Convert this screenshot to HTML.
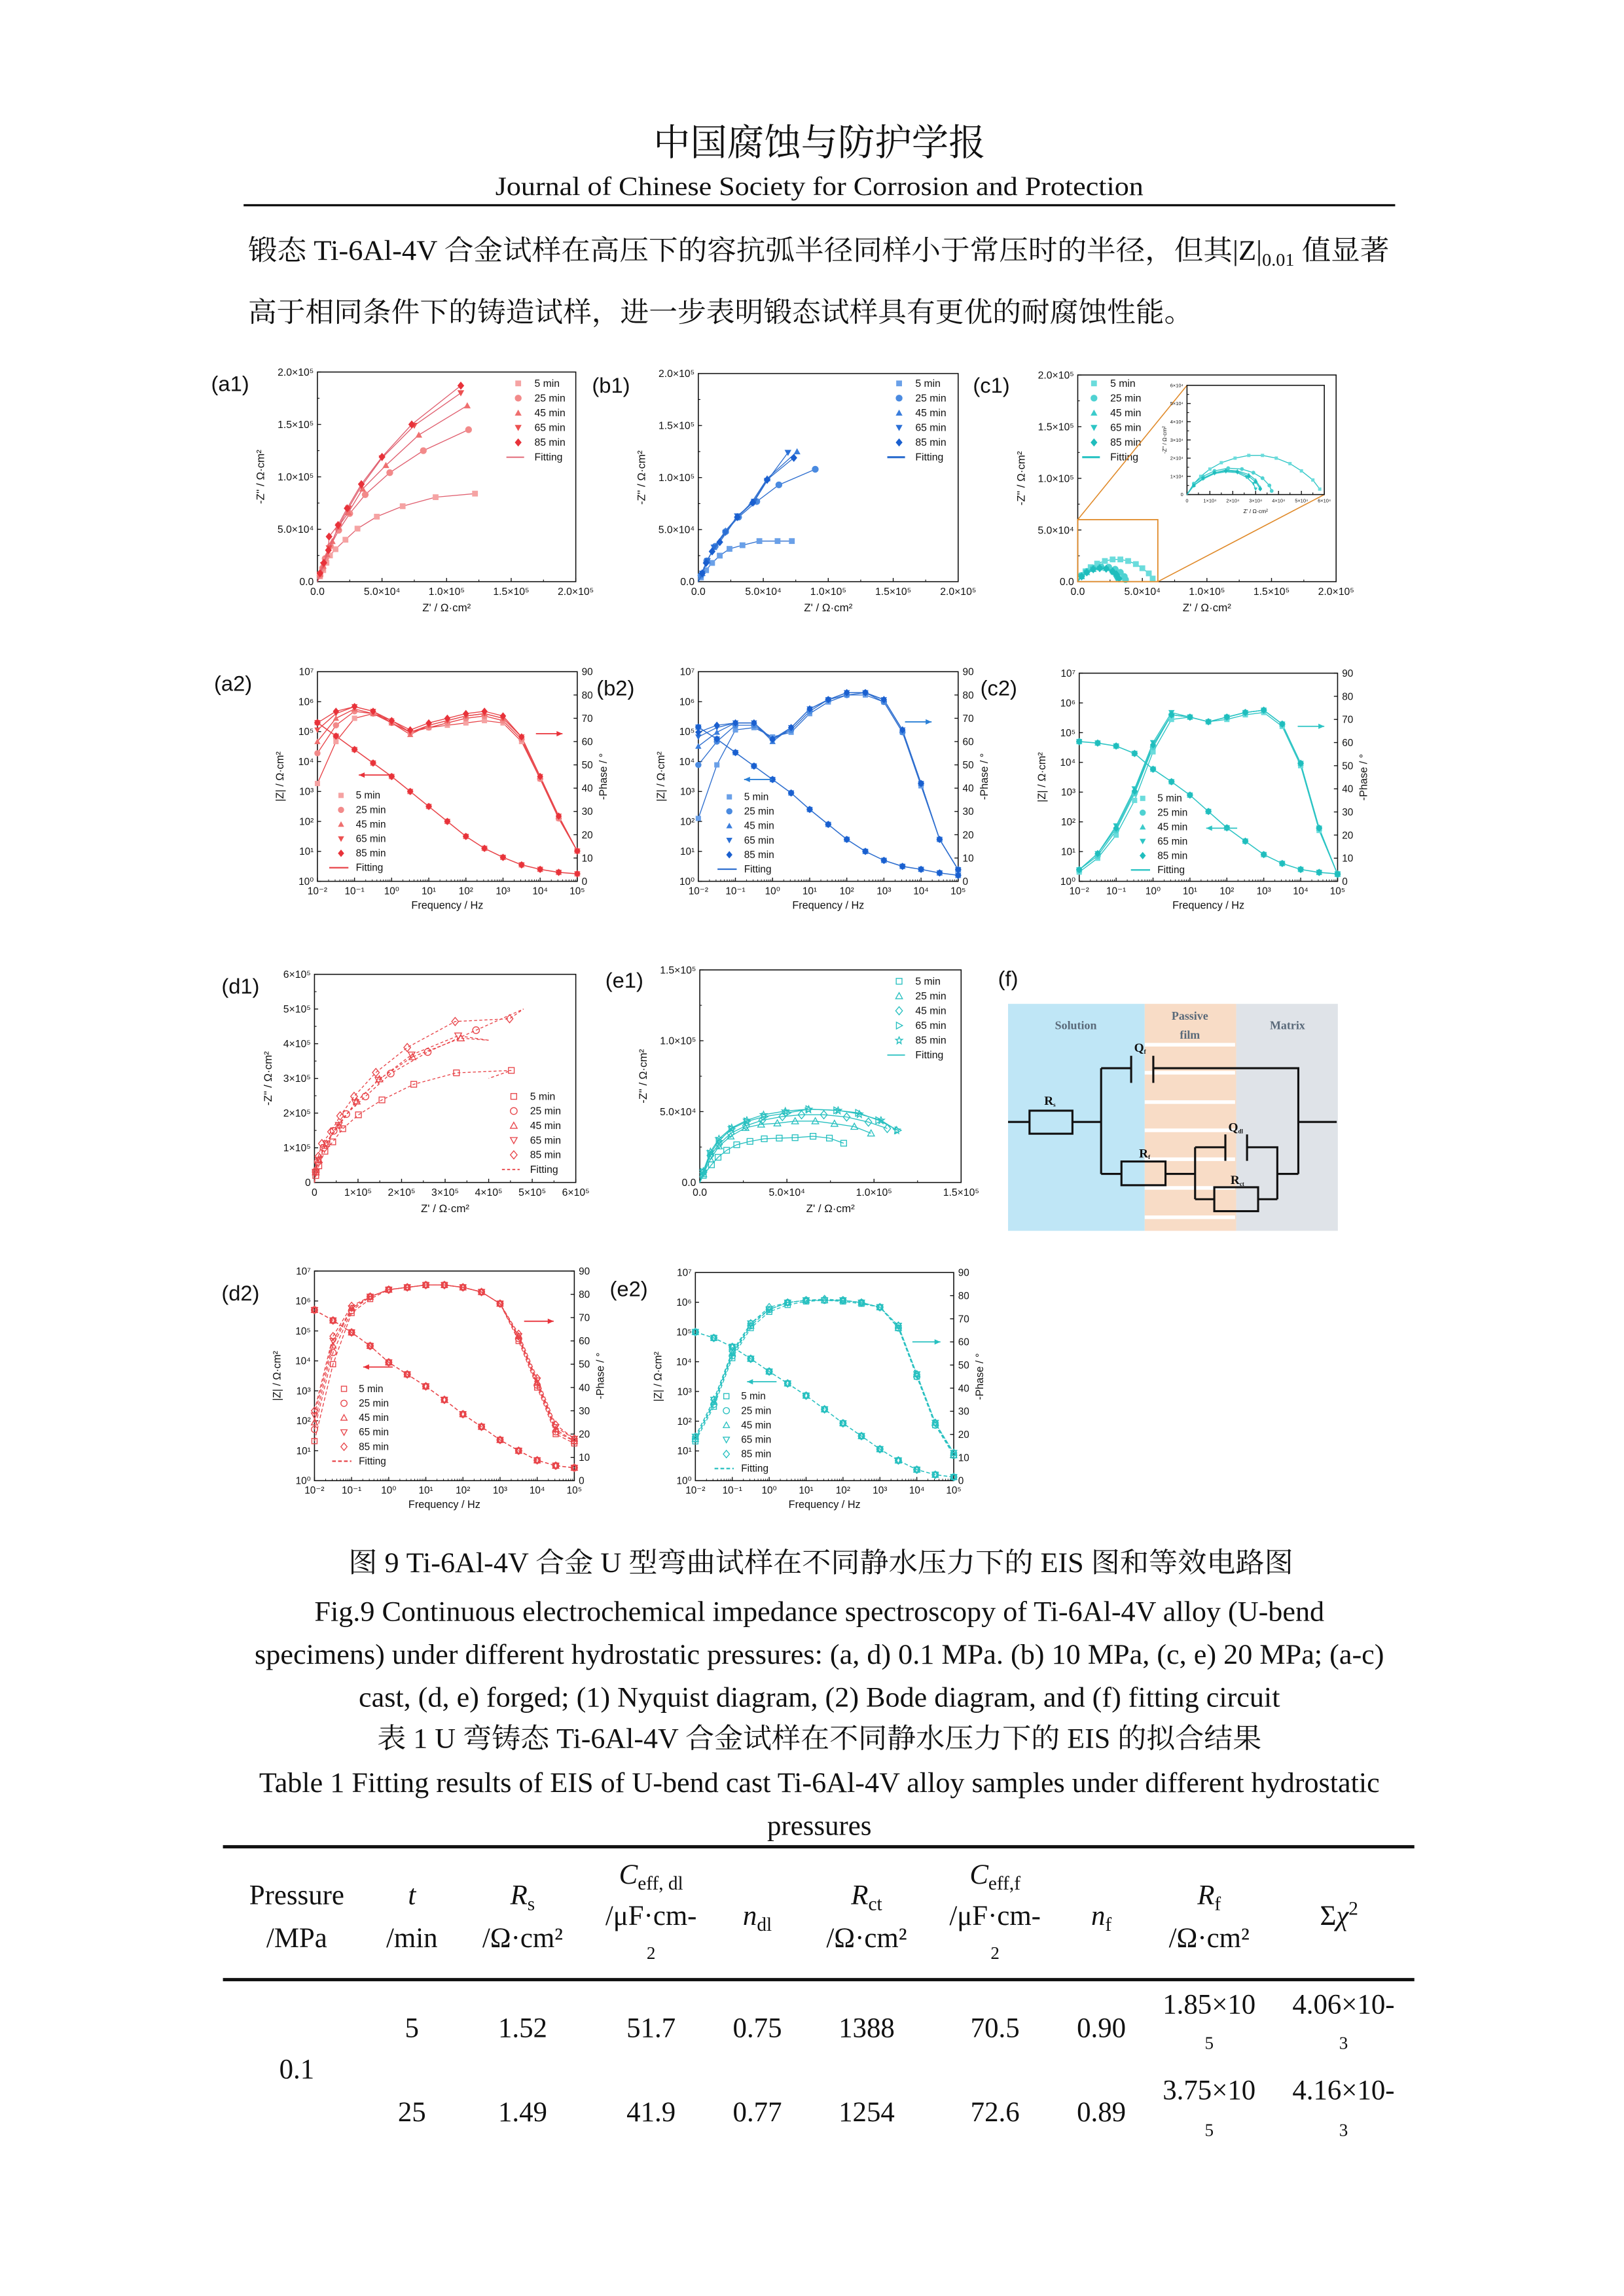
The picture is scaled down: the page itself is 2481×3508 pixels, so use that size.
<!DOCTYPE html>
<html><head><meta charset="utf-8"><style>
html,body{margin:0;padding:0;background:#fff;}
svg{display:block;}
</style></head><body>
<svg id="page" xmlns="http://www.w3.org/2000/svg" width="2481" height="3508" viewBox="0 0 1100 1555.3">
<rect x="0" y="0" width="1100" height="1556" fill="#fff"/>
<g font-family="'Liberation Serif','Noto Serif CJK SC',serif" fill="#111">
<text x="555" y="105" font-size="25" text-anchor="middle">中国腐蚀与防护学报</text>
<text x="555" y="132" font-size="18" text-anchor="middle" textLength="439" lengthAdjust="spacingAndGlyphs">Journal of Chinese Society for Corrosion and Protection</text>
<line x1="165" y1="139" x2="945" y2="139" stroke="#111" stroke-width="1.5"/>
</g>
<g font-family="'Liberation Serif','Noto Serif CJK SC',serif" fill="#111" font-size="19">
<text x="168" y="176" textLength="773" lengthAdjust="spacingAndGlyphs">锻态 Ti-6Al-4V 合金试样在高压下的容抗弧半径同样小于常压时的半径，但其|Z|<tspan font-size="12" dy="4">0.01</tspan><tspan dy="-4"> 值显著</tspan></text>
<text x="168" y="218" textLength="640" lengthAdjust="spacingAndGlyphs">高于相同条件下的铸造试样，进一步表明锻态试样具有更优的耐腐蚀性能。</text>
</g>
<g id="charts"></g>
<g id="circuit" transform="translate(682.8,647.1) scale(0.153)">
<rect x="0" y="215" width="605" height="1005" fill="#bfe6f6"/>
<rect x="605" y="215" width="405" height="1005" fill="#f8dcc6"/>
<g fill="#fff">
<rect x="605" y="388" width="400" height="16"/><rect x="605" y="512" width="400" height="16"/><rect x="605" y="642" width="400" height="16"/><rect x="605" y="767" width="400" height="16"/><rect x="605" y="895" width="400" height="16"/><rect x="605" y="1022" width="400" height="16"/><rect x="605" y="1152" width="400" height="16"/>
</g>
<rect x="1010" y="215" width="450" height="1005" fill="#dfe3e8"/>
<g font-family="'Liberation Serif',serif" font-weight="bold" font-size="52" fill="#5a6a7a" text-anchor="middle">
<text x="300" y="328">Solution</text>
<text x="805" y="285">Passive</text>
<text x="805" y="370">film</text>
<text x="1237" y="328">Matrix</text>
</g>
<g stroke="#111" stroke-width="9" fill="none">
<path d="M0 738H95M285 738H412M412 500V968M412 500H545M643 500H1285V968M1285 738H1455M412 968H502M697 968H828M828 850V1080M828 850H962M1058 850H1192V1080M828 1080H913M1107 1080H1192M1192 968H1285"/>
<rect x="95" y="688" width="190" height="102"/>
<rect x="502" y="913" width="195" height="105"/>
<rect x="913" y="1027" width="194" height="106"/>
<path d="M545 445V565M643 445V565"/>
<path d="M962 793V910M1058 793V910"/>
</g>
<g font-family="'Liberation Serif',serif" font-weight="bold" font-size="56" fill="#111">
<text x="558" y="428">Q<tspan font-size="26" dy="8">f</tspan></text>
<text x="160" y="662">R<tspan font-size="26" dy="8">s</tspan></text>
<text x="580" y="895">R<tspan font-size="26" dy="8">f</tspan></text>
<text x="975" y="780">Q<tspan font-size="26" dy="8">dl</tspan></text>
<text x="985" y="1013">R<tspan font-size="26" dy="8">ct</tspan></text>
</g>
</g>
<g font-family="'Liberation Serif','Noto Serif CJK SC',serif" fill="#111" font-size="19" text-anchor="middle">
<text x="556" y="1065" textLength="640" lengthAdjust="spacingAndGlyphs">图 9 Ti-6Al-4V 合金 U 型弯曲试样在不同静水压力下的 EIS 图和等效电路图</text>
<text x="555" y="1098" textLength="684" lengthAdjust="spacingAndGlyphs">Fig.9 Continuous electrochemical impedance spectroscopy of Ti-6Al-4V alloy (U-bend</text>
<text x="555" y="1127" textLength="765" lengthAdjust="spacingAndGlyphs">specimens) under different hydrostatic pressures: (a, d) 0.1 MPa. (b) 10 MPa, (c, e) 20 MPa; (a-c)</text>
<text x="555" y="1156" textLength="624" lengthAdjust="spacingAndGlyphs">cast, (d, e) forged; (1) Nyquist diagram, (2) Bode diagram, and (f) fitting circuit</text>
<text x="555" y="1184" textLength="599" lengthAdjust="spacingAndGlyphs">表 1 U 弯铸态 Ti-6Al-4V 合金试样在不同静水压力下的 EIS 的拟合结果</text>
<text x="555" y="1214" textLength="759" lengthAdjust="spacingAndGlyphs">Table 1 Fitting results of EIS of U-bend cast Ti-6Al-4V alloy samples under different hydrostatic</text>
<text x="555" y="1243">pressures</text>
</g>
<g font-family="'Liberation Serif',serif" fill="#111" font-size="19" text-anchor="middle">
<line x1="151" y1="1251" x2="958" y2="1251" stroke="#111" stroke-width="2.2"/>
<line x1="151" y1="1341" x2="958" y2="1341" stroke="#111" stroke-width="2.2"/>
<text x="201" y="1290">Pressure</text><text x="201" y="1319">/MPa</text>
<text x="279" y="1290" font-style="italic">t</text><text x="279" y="1319">/min</text>
<text x="354" y="1290"><tspan font-style="italic">R</tspan><tspan font-size="13" dy="4">s</tspan></text><text x="354" y="1319">/Ω·cm²</text>
<text x="441" y="1276"><tspan font-style="italic">C</tspan><tspan font-size="13" dy="4">eff, dl</tspan></text><text x="441" y="1304">/μF·cm-</text><text x="441" y="1327" font-size="12">2</text>
<text x="513" y="1304"><tspan font-style="italic">n</tspan><tspan font-size="13" dy="4">dl</tspan></text>
<text x="587" y="1290"><tspan font-style="italic">R</tspan><tspan font-size="13" dy="4">ct</tspan></text><text x="587" y="1319">/Ω·cm²</text>
<text x="674" y="1276"><tspan font-style="italic">C</tspan><tspan font-size="13" dy="4">eff,f</tspan></text><text x="674" y="1304">/μF·cm-</text><text x="674" y="1327" font-size="12">2</text>
<text x="746" y="1304"><tspan font-style="italic">n</tspan><tspan font-size="13" dy="4">f</tspan></text>
<text x="819" y="1290"><tspan font-style="italic">R</tspan><tspan font-size="13" dy="4">f</tspan></text><text x="819" y="1319">/Ω·cm²</text>
<text x="907" y="1304">Σ<tspan font-style="italic">χ</tspan><tspan font-size="13" dy="-7">2</tspan></text>
<text x="201" y="1408">0.1</text>
<g>
<text x="279" y="1380">5</text><text x="354" y="1380">1.52</text><text x="441" y="1380">51.7</text><text x="513" y="1380">0.75</text><text x="587" y="1380">1388</text><text x="674" y="1380">70.5</text><text x="746" y="1380">0.90</text>
<text x="819" y="1364">1.85×10</text><text x="819" y="1388" font-size="12">5</text><text x="910" y="1364">4.06×10-</text><text x="910" y="1388" font-size="12">3</text>
</g>
<g>
<text x="279" y="1437">25</text><text x="354" y="1437">1.49</text><text x="441" y="1437">41.9</text><text x="513" y="1437">0.77</text><text x="587" y="1437">1254</text><text x="674" y="1437">72.6</text><text x="746" y="1437">0.89</text>
<text x="819" y="1422">3.75×10</text><text x="819" y="1447" font-size="12">5</text><text x="910" y="1422">4.16×10-</text><text x="910" y="1447" font-size="12">3</text>
</g>
</g>
</svg>
<script>
// ---------- data (Nyquist: a,b,c,e in 1e4 Ω·cm², d in 1e5 Ω·cm²) ----------
const times = ['5 min','25 min','45 min','65 min','85 min'];
const a1_x5=[0.2,0.45,0.7,0.97,1.4,2.17,3.1,4.6,6.6,9.15,12.2];
const a1_y5=[0.5,1.1,1.8,2.5,3.1,4.0,5.06,6.2,7.2,8.06,8.4];
const a1_x25=[0.2,0.4,0.6,1.0,1.65,2.5,3.7,5.6,8.2,11.7];
const a1_y25=[0.6,1.3,2.2,3.4,4.9,6.5,8.3,10.4,12.5,14.5];
const a1_x45=[0.2,0.45,0.75,1.15,1.6,2.4,3.5,5.3,7.85,11.6];
const a1_y45=[0.7,1.5,2.6,3.85,5.2,6.6,8.85,11.1,14.0,16.8];
const a1_x65=[0.2,0.45,0.9,1.65,2.4,3.4,5.0,7.5,11.1];
const a1_y65=[0.7,1.6,3.2,5.3,7.0,9.1,11.8,14.9,18.0];
const a1_x85=[0.2,0.5,0.85,0.9,1.6,2.3,3.4,5.0,7.3,11.1];
const a1_y85=[0.8,1.8,3.0,4.3,5.4,7.0,9.3,11.9,15.0,18.7];
const b1_x5=[0.2,0.6,1.06,1.65,2.4,3.4,4.7,6.1,7.2];
const b1_y5=[0.4,1.1,1.8,2.5,3.15,3.5,3.9,3.9,3.9];
const b1_x25=[0.2,0.65,1.3,2.1,3.1,4.5,6.2,9.0];
const b1_y25=[0.6,2.0,3.4,4.8,6.2,7.7,9.3,10.8];
const b1_x45=[0.3,0.7,1.2,2.1,3.0,4.1,5.3,7.6];
const b1_y45=[0.8,2.0,3.3,4.9,6.2,7.6,9.9,12.5];
const b1_x65=[0.3,0.7,1.2,2.1,3.0,4.3,5.3,6.9];
const b1_y65=[0.8,2.0,3.3,4.7,6.3,7.7,9.7,12.4];
const b1_x85=[0.3,0.6,1.06,1.65,3.0,4.2,5.3,7.35];
const b1_y85=[0.8,1.8,2.9,3.8,6.2,7.6,9.8,11.9];
const c1_x5=[0.3,0.6,1.0,1.5,2.1,2.7,3.3,3.9,4.5,5.0,5.5,5.8];
const c1_y5=[0.6,1.0,1.4,1.75,2.0,2.15,2.15,2.0,1.7,1.3,0.8,0.3];
const c1_x25=[0.3,0.7,1.2,1.8,2.4,2.9,3.3,3.6,3.7];
const c1_y25=[0.6,1.0,1.3,1.45,1.4,1.2,0.9,0.5,0.2];
const c1_x45=[0.3,0.7,1.2,1.7,2.2,2.7,3.0,3.2];
const c1_y45=[0.5,0.9,1.2,1.35,1.3,1.1,0.8,0.4];
const c1_x65=[0.3,0.7,1.2,1.7,2.2,2.6,2.9,3.0];
const c1_y65=[0.5,0.85,1.15,1.25,1.2,0.95,0.6,0.3];
const c1_x85=[0.3,0.7,1.2,1.7,2.2,2.7,3.0,3.2];
const c1_y85=[0.5,0.9,1.2,1.3,1.25,1.0,0.7,0.3];
const d1_x5=[0.03,0.1,0.24,0.42,0.65,1.01,1.55,2.28,3.26,4.52];
const d1_y5=[0.2,0.48,0.9,1.17,1.55,1.95,2.38,2.83,3.16,3.23];
const d1_x25=[0.03,0.08,0.21,0.44,0.73,1.17,1.75,2.6,3.71];
const d1_y25=[0.3,0.6,1.0,1.49,1.97,2.48,3.14,3.76,4.39];
const d1_x45=[0.03,0.1,0.27,0.56,0.97,1.49,2.25,3.36];
const d1_y45=[0.3,0.65,1.12,1.65,2.34,2.98,3.62,4.16];
const d1_x65=[0.03,0.1,0.27,0.56,0.94,1.47,2.23,3.3];
const d1_y65=[0.3,0.65,1.12,1.65,2.3,2.95,3.68,4.23];
const d1_x85=[0.03,0.09,0.17,0.38,0.59,0.91,1.41,2.13,3.23,4.48];
const d1_y85=[0.35,0.75,1.12,1.46,1.92,2.48,3.17,3.89,4.64,4.72];
// d1 fitting curve end points (extend beyond data)
const d1_fitEndX=[4.0,4.8,4.0,4.0,4.8];
const d1_fitEndY=[3.0,5.0,4.1,4.1,5.0];
const e1_x5=[0.2,0.67,1.05,1.54,2.12,2.88,3.7,4.56,5.47,6.5,7.44,8.26];
const e1_y5=[0.5,1.25,1.78,2.27,2.66,2.9,3.08,3.13,3.16,3.26,3.13,2.77];
const e1_x25=[0.2,0.61,1.1,1.77,2.62,3.52,4.45,5.47,6.63,7.73,8.87,9.83];
const e1_y25=[0.6,1.64,2.56,3.26,3.86,4.1,4.18,4.33,4.33,4.15,3.94,3.47];
const e1_x45=[0.2,0.61,1.1,1.77,2.65,3.58,4.74,5.84,7.12,8.43,9.68,10.76];
const e1_y45=[0.7,1.9,2.69,3.47,4.0,4.39,4.65,4.78,4.78,4.62,4.26,3.81];
const e1_x65=[0.2,0.61,1.1,1.83,2.7,3.72,5.03,6.25,7.85,9.1,10.26,11.37];
const e1_y65=[0.75,2.04,2.95,3.79,4.31,4.65,4.91,5.17,5.09,4.91,4.39,3.68];
const e1_x85=[0.2,0.61,1.1,1.83,2.7,3.66,4.91,6.25,7.94,9.16,10.4,11.3];
const e1_y85=[0.8,2.17,3.08,3.86,4.39,4.78,5.04,5.17,5.09,4.83,4.39,3.7];
// ---------- Bode data: log10(f) grid and values ----------
const logF=[-2,-1.5,-1,-0.5,0,0.5,1,1.5,2,2.5,3,3.5,4,4.5,5];
const a2_logZ=[5.3,4.85,4.4,3.95,3.5,3.0,2.5,2.0,1.5,1.1,0.8,0.55,0.4,0.3,0.25];
const a2_ph5=[42,60,70,72,69,64,66,67,68,69,68,60,44,27,13];
const a2_ph25=[55,67,73,72,68,64,66,68,70,71,69,61,44,27,13];
const a2_ph45=[60,70,74,72,68,63,67,69,71,72,70,62,45,28,13];
const a2_ph65=[65,72,75,73,68,64,67,69,71,72,70,62,45,28,13];
const a2_ph85=[68,73,75,73,69,65,68,70,72,73,71,62,45,28,13];
const b2_logZ=[5.15,4.75,4.3,3.85,3.4,2.95,2.4,1.9,1.4,1.0,0.7,0.5,0.4,0.28,0.2];
const b2_ph5=[27,50,65,66,62,64,72,77,80,80,77,64,41,18,5];
const b2_ph25=[50,60,67,67,61,65,73,78,80,81,77,64,42,18,5];
const b2_ph45=[58,64,68,68,60,66,74,78,81,81,78,65,42,18,5];
const b2_ph65=[62,66,68,68,61,66,74,78,81,81,78,65,42,18,5];
const b2_ph85=[64,67,68,68,61,66,74,78,81,81,78,65,42,18,5];
const c2_logZ=[4.7,4.65,4.55,4.3,3.77,3.35,2.9,2.35,1.8,1.35,0.9,0.6,0.4,0.3,0.25];
const c2_ph5=[4,10,20,35,56,70,71,69,70,72,73,67,50,22,3];
const c2_ph25=[5,11,22,38,58,72,71,69,71,73,74,68,51,23,3];
const c2_ph45=[5,12,23,39,59,72,71,69,71,73,74,68,51,23,3];
const c2_ph65=[5,12,24,40,60,73,71,69,71,73,74,68,51,23,3];
const c2_ph85=[5,12,23,39,59,72,71,69,71,73,74,68,51,23,3];
const d2_logZ=[5.7,5.35,4.95,4.5,3.95,3.55,3.15,2.7,2.22,1.8,1.36,1.0,0.68,0.5,0.43];
const d2_ph5=[17,50,72,78,82,83,84,84,83,81,76,60,40,20,16];
const d2_ph25=[22,55,73,79,82,83,84,84,83,81,76,61,41,21,17];
const d2_ph45=[25,58,74,79,82,83,84,84,83,81,76,62,42,22,17];
const d2_ph65=[28,60,74,79,82,83,84,84,83,81,76,62,43,23,18];
const d2_ph85=[30,62,75,79,82,83,84,84,83,81,76,63,44,24,18];
const e2_logZ=[5.0,4.8,4.5,4.1,3.67,3.27,2.86,2.4,1.93,1.5,1.06,0.68,0.37,0.2,0.12];
const e2_ph5=[17,32,53,66,73,76,77.5,78,77.5,76.5,75,66,45,24,11];
const e2_ph25=[18,33,54,67,74,77,78,78,78,77,75,66,45,24,11];
const e2_ph45=[18,34,55,67,74,77,78,78,78,77,75,66,46,25,11];
const e2_ph65=[19,35,55,68,74,77,78,78,78,77,75,67,46,25,12];
const e2_ph85=[19,35,56,68,75,77,78,78.5,78,77,75,67,46,25,12];
// ---------- tick labels ----------
const nyq20Labels=['0.0','5.0×10⁴','1.0×10⁵','1.5×10⁵','2.0×10⁵'];
const nyq20Vals=[0,5,10,15,20];
const nyq15Labels=['0.0','5.0×10⁴','1.0×10⁵','1.5×10⁵'];
const nyq15Vals=[0,5,10,15];
const d1Labels=['0','1×10⁵','2×10⁵','3×10⁵','4×10⁵','5×10⁵','6×10⁵'];
const d1Vals=[0,1,2,3,4,5,6];
const insetLabels=['0','1×10⁴','2×10⁴','3×10⁴','4×10⁴','5×10⁴','6×10⁴'];
const freqLabels=['10⁻²','10⁻¹','10⁰','10¹','10²','10³','10⁴','10⁵'];
const freqVals=[-2,-1,0,1,2,3,4,5];
const zLabels=['10⁰','10¹','10²','10³','10⁴','10⁵','10⁶','10⁷'];
const zVals=[0,1,2,3,4,5,6,7];
const phLabels=['0','10','20','30','40','50','60','70','80','90'];
const phVals=[0,10,20,30,40,50,60,70,80,90];

// ---------- drawing helpers ----------
const NS='http://www.w3.org/2000/svg';
const root=document.getElementById('charts');
const FONT="'Liberation Sans','DejaVu Sans',sans-serif";
function mk(tag, attrs, parent){
  const el=document.createElementNS(NS,tag);
  for(const k in attrs) el.setAttribute(k, attrs[k]);
  parent.appendChild(el);
  return el;
}
function txt(parent, x, y, s, size, anchor, name, rot){
  const el=mk('text',{x:x,y:y,'font-size':size,'text-anchor':anchor||'start','font-family':FONT,fill:'#111'},parent);
  if(rot) el.setAttribute('transform','rotate('+rot+' '+x+' '+y+')');
  el.textContent=s;
  
  
  return el;
}
function line(parent,x1,y1,x2,y2,stroke,w,name){
  const el=mk('line',{x1:x1,y1:y1,x2:x2,y2:y2,stroke:stroke,'stroke-width':w},parent);
  
  
  return el;
}
function marker(parent, shape, cx, cy, r, color, hollow, name){
  let el;
  const fill=hollow?'none':color, sw=hollow?0.6:0;
  if(shape==='sq') el=mk('rect',{x:cx-r*0.85,y:cy-r*0.85,width:r*1.7,height:r*1.7},parent);
  else if(shape==='ci') el=mk('circle',{cx:cx,cy:cy,r:r},parent);
  else {
    let pts;
    if(shape==='tu') pts=[[0,-r],[r,r*0.8],[-r,r*0.8]];
    else if(shape==='td') pts=[[0,r],[r,-r*0.8],[-r,-r*0.8]];
    else if(shape==='tr') pts=[[r,0],[-r*0.8,r],[-r*0.8,-r]];
    else if(shape==='st') pts=[[0,-r],[r*0.3,-r*0.3],[r,-r*0.3],[r*0.45,r*0.15],[r*0.6,r],[0,r*0.5],[-r*0.6,r],[-r*0.45,r*0.15],[-r,-r*0.3],[-r*0.3,-r*0.3]];
    else pts=[[0,-r*1.2],[r,0],[0,r*1.2],[-r,0]];
    el=mk('polygon',{points:pts.map(p=>(cx+p[0])+','+(cy+p[1])).join(' ')},parent);
  }
  el.setAttribute('fill',fill);
  el.setAttribute('stroke',color);
  el.setAttribute('stroke-width',sw);
  
  
  return el;
}
function polyline(parent, pts, color, w, dash, name){
  const el=mk('polyline',{points:pts.map(p=>p[0].toFixed(2)+','+p[1].toFixed(2)).join(' '),fill:'none',stroke:color,'stroke-width':w},parent);
  if(dash) el.setAttribute('stroke-dasharray',dash);
  
  
  return el;
}
function arrow(parent,x1,x2,y,color,name){
  const g=mk('g',{},parent);
  
  
  mk('line',{x1:x1,y1:y,x2:x2,y2:y,stroke:color,'stroke-width':0.8},g);
  const d=x2>x1?1:-1;
  mk('polygon',{points:x2+','+y+' '+(x2-d*4)+','+(y-1.8)+' '+(x2-d*4)+','+(y+1.8),fill:color},g);
}
function group(name){
  const g=mk('g',{},root);
  
  
  return g;
}
function frame(g,L,R,T,B,name){
  const el=mk('rect',{x:L,y:T,width:R-L,height:B-T,fill:'none',stroke:'#111','stroke-width':0.7},g);
  
  
}

// ---------- Nyquist panel ----------
function nyquist(p){
  const g=group(p.name);
  const sx=v=>p.L+v/p.xmax*(p.R-p.L);
  const sy=v=>p.B-v/p.ymax*(p.B-p.T);
  frame(g,p.L,p.R,p.T,p.B,p.name+'-frame');
  const fs=p.fs||7;
  p.xv.forEach((v,i)=>{
    line(g,sx(v),p.B,sx(v),p.B-2.5,'#111',0.6,'x-tick');
    txt(g,sx(v),p.B+fs+2,p.xl[i],fs,'middle','x-tick-label');
    if(i<p.xv.length-1){const m=(v+p.xv[i+1])/2; line(g,sx(m),p.B,sx(m),p.B-1.4,'#111',0.5,'x-minor-tick');}
  });
  p.yv.forEach((v,i)=>{
    line(g,p.L,sy(v),p.L+2.5,sy(v),'#111',0.6,'y-tick');
    txt(g,p.L-2.5,sy(v)+fs*0.35,p.yl[i],fs,'end','y-tick-label');
    if(i<p.yv.length-1){const m=(v+p.yv[i+1])/2; line(g,p.L,sy(m),p.L+1.4,sy(m),'#111',0.5,'y-minor-tick');}
  });
  if(p.xtitle) txt(g,(p.L+p.R)/2,p.B+fs*2+6,p.xtitle,fs+0.5,'middle','x-axis-title');
  if(p.ytitle) txt(g,p.L-(p.ytoff||36),(p.T+p.B)/2,p.ytitle,fs+0.5,'middle','y-axis-title',-90);
  p.series.forEach((s,i)=>{
    const pts=[[sx(0),sy(0)]].concat(s.x.map((v,j)=>[sx(v),sy(s.y[j])]));
    if(p.fitEndX) pts.push([sx(p.fitEndX[i]),sy(p.fitEndY[i])]);
    polyline(g,pts,p.fitColor,p.fitW||0.6,p.dash,'fit-line-'+times[i].replace(' ',''));
    s.x.forEach((v,j)=>marker(g,p.shapes[i],sx(v),sy(s.y[j]),p.r||2.3,p.colors[i],p.hollow,'point-'+times[i].replace(' ','')));
  });
  if(p.legend){
    const lg=mk('g',{},g);
    
    
    times.forEach((t,i)=>{
      const y=p.legend.y+i*p.legend.dy;
      marker(lg,p.shapes[i],p.legend.x,y-2.3,p.r||2.3,p.colors[i],p.hollow,'legend-marker');
      txt(lg,p.legend.x+(p.legend.tx||11),y,t,p.legend.fs||7,'start','legend-entry');
    });
    const y=p.legend.y+5*p.legend.dy;
    const ll=line(lg,p.legend.x-8,y-2.3,p.legend.x+4,y-2.3,p.fitColor,p.legendLineW||0.8,'legend-fit-line');
    if(p.dash) ll.setAttribute('stroke-dasharray',p.dash);
    txt(lg,p.legend.x+(p.legend.tx||11),y,'Fitting',p.legend.fs||7,'start','legend-entry');
  }
  return {g:g,sx:sx,sy:sy};
}

// ---------- Bode panel ----------
function bode(p){
  const g=group(p.name);
  const sx=v=>p.L+(v+2)/7*(p.R-p.L);
  const sz=v=>p.B-v/7*(p.B-p.T);
  const sp=v=>p.B-v/90*(p.B-p.T);
  frame(g,p.L,p.R,p.T,p.B,p.name+'-frame');
  const fs=6.8;
  freqVals.forEach((v,i)=>{
    line(g,sx(v),p.B,sx(v),p.B-2.5,'#111',0.6,'x-tick');
    txt(g,sx(v),p.B+fs+2,freqLabels[i],fs,'middle','x-tick-label');
    if(i<freqVals.length-1){[0.301,0.477,0.602,0.699,0.778,0.845,0.903,0.954].forEach(m=>line(g,sx(v+m),p.B,sx(v+m),p.B-1.3,'#111',0.4,'x-minor-tick'));}
  });
  zVals.forEach((v,i)=>{
    line(g,p.L,sz(v),p.L+2.5,sz(v),'#111',0.6,'left-y-tick');
    txt(g,p.L-2.5,sz(v)+2.4,zLabels[i],fs,'end','left-y-tick-label');
  });
  phVals.forEach((v,i)=>{
    line(g,p.R,sp(v),p.R-2.5,sp(v),'#111',0.6,'right-y-tick');
    txt(g,p.R+3,sp(v)+2.4,phLabels[i],fs,'start','right-y-tick-label');
  });
  txt(g,(p.L+p.R)/2,p.B+fs*2+5,'Frequency / Hz',fs+0.4,'middle','x-axis-title');
  txt(g,p.L-23,(p.T+p.B)/2,'|Z| / Ω·cm²',fs+0.4,'middle','left-y-axis-title',-90);
  txt(g,p.R+20,(p.T+p.B)/2,'-Phase / °',fs+0.4,'middle','right-y-axis-title',-90);
  polyline(g,logF.map((f,j)=>[sx(f),sz(p.logZ[j])]),p.fitColor,0.7,p.dash,'modulus-fit-line');
  p.phases.forEach((ph,i)=>polyline(g,logF.map((f,j)=>[sx(f),sp(ph[j])]),p.fitColor,0.6,p.dash,'phase-fit-line-'+times[i].replace(' ','')));
  p.phases.forEach((ph,i)=>{
    logF.forEach((f,j)=>{
      marker(g,p.shapes[i],sx(f),sz(p.logZ[j]),2.1,p.colors[i],p.hollow,'modulus-point-'+times[i].replace(' ',''));
      marker(g,p.shapes[i],sx(f),sp(ph[j]),2.1,p.colors[i],p.hollow,'phase-point-'+times[i].replace(' ',''));
    });
  });
  arrow(g,p.arL[1],p.arL[0],p.arL[2],p.arrowColor,'modulus-axis-arrow');
  arrow(g,p.arR[0],p.arR[1],p.arR[2],p.arrowColor,'phase-axis-arrow');
  const lg=mk('g',{},g);
  
  
  times.forEach((t,i)=>{
    const y=p.legend.y+i*p.legend.dy;
    marker(lg,p.shapes[i],p.legend.x,y-2.2,2.1,p.colors[i],p.hollow,'legend-marker');
    txt(lg,p.legend.x+10,y,t,6.8,'start','legend-entry');
  });
  const y=p.legend.y+5*p.legend.dy;
  const ll=line(lg,p.legend.x-8,y-2.2,p.legend.x+5,y-2.2,p.fitColor,1,'legend-fit-line');
  if(p.dash) ll.setAttribute('stroke-dasharray',p.dash);
  txt(lg,p.legend.x+10,y,'Fitting',6.8,'start','legend-entry');
}

const redS=['#f5a3a3','#f28a8a','#ef6f6f','#ec5050','#e8323a'];
const blueS=['#6aa0e8','#4a8ae0','#3a7ddc','#2a6fd6','#1a5fcf'];
const cyanS=['#6adcdc','#4fd2d2','#3ccbcb','#2dc5c5','#20bdbd'];
const filledShapes=['sq','ci','tu','td','di'];

[['(a1)',143,265],['(b1)',401,266],['(c1)',659,266],['(a2)',145,468],['(b2)',404,471],['(c2)',664,471],['(d1)',150,673],['(e1)',410,669],['(f)',676,668],['(d2)',150,881],['(e2)',413,878]].forEach(l=>{
  txt(root,l[1],l[2],l[0],14.5,'start','panel-label-'+l[0].replace(/[()]/g,''));
});

nyquist({name:'nyquist-a1',L:215,R:390,T:252,B:394,xmax:20,ymax:20,xv:nyq20Vals,xl:nyq20Labels,yv:nyq20Vals,yl:nyq20Labels,
  xtitle:"Z' / Ω·cm²",ytitle:"-Z'' / Ω·cm²",colors:redS,shapes:filledShapes,fitColor:'#e06070',
  series:[{x:a1_x5,y:a1_y5},{x:a1_x25,y:a1_y25},{x:a1_x45,y:a1_y45},{x:a1_x65,y:a1_y65},{x:a1_x85,y:a1_y85}],
  legend:{x:351,y:262,dy:10}});
nyquist({name:'nyquist-b1',L:473,R:649,T:253,B:394,xmax:20,ymax:20,xv:nyq20Vals,xl:nyq20Labels,yv:nyq20Vals,yl:nyq20Labels,
  xtitle:"Z' / Ω·cm²",ytitle:"-Z'' / Ω·cm²",colors:blueS,shapes:filledShapes,fitColor:'#2f6fcf',
  series:[{x:b1_x5,y:b1_y5},{x:b1_x25,y:b1_y25},{x:b1_x45,y:b1_y45},{x:b1_x65,y:b1_y65},{x:b1_x85,y:b1_y85}],
  legend:{x:609,y:262,dy:10},legendLineW:1.4});
const c1=nyquist({name:'nyquist-c1',L:730,R:905,T:254,B:394,xmax:20,ymax:20,xv:nyq20Vals,xl:nyq20Labels,yv:nyq20Vals,yl:nyq20Labels,
  xtitle:"Z' / Ω·cm²",ytitle:"-Z'' / Ω·cm²",colors:cyanS,shapes:['sq','ci','tu','td','di'],fitColor:'#2cc4c4',
  series:[{x:c1_x5,y:c1_y5},{x:c1_x25,y:c1_y25},{x:c1_x45,y:c1_y45},{x:c1_x65,y:c1_y65},{x:c1_x85,y:c1_y85}],
  legend:{x:741,y:262,dy:10},legendLineW:1.4});
(function(){
  const g=group('nyquist-c1-inset');
  const bx0=c1.sx(0), bx1=c1.sx(6.2), by0=c1.sy(6), by1=c1.sy(0);
  const box=mk('rect',{x:bx0,y:by0,width:bx1-bx0,height:by1-by0,fill:'none',stroke:'#e08a2a','stroke-width':0.8},g);
  
  
  line(g,bx0,by0,804,261,'#e08a2a',0.7,'zoom-connector');
  line(g,bx1,by1,897,335,'#e08a2a',0.7,'zoom-connector');
  const ins={name:'inset',L:804,R:897,T:261,B:335,xmax:6,ymax:6,xv:d1Vals,xl:insetLabels,yv:d1Vals,yl:insetLabels,fs:3.3,
    xtitle:"Z' / Ω·cm²",ytitle:"-Z'' / Ω·cm²",ytoff:14,colors:cyanS,shapes:filledShapes,fitColor:'#2cc4c4',r:1.3,
    series:[{x:c1_x5,y:c1_y5},{x:c1_x25,y:c1_y25},{x:c1_x45,y:c1_y45},{x:c1_x65,y:c1_y65},{x:c1_x85,y:c1_y85}]};
  mk('rect',{x:804,y:261,width:93,height:74,fill:'#fff'},g);
  nyquist(ins);
})();

bode({name:'bode-a2',L:215,R:391,T:455,B:597,logZ:a2_logZ,phases:[a2_ph5,a2_ph25,a2_ph45,a2_ph65,a2_ph85],colors:redS,shapes:filledShapes,fitColor:'#e8454a',arrowColor:'#e8323a',
  arL:[243,266,525],arR:[363,381,497],legend:{x:231,y:541,dy:9.8}});
bode({name:'bode-b2',L:473,R:649,T:455,B:597,logZ:b2_logZ,phases:[b2_ph5,b2_ph25,b2_ph45,b2_ph65,b2_ph85],colors:blueS,shapes:filledShapes,fitColor:'#2f6fcf',arrowColor:'#2a7fd6',
  arL:[504,523,528],arR:[613,631,489],legend:{x:494,y:542,dy:9.8}});
bode({name:'bode-c2',L:731,R:906,T:456,B:597,logZ:c2_logZ,phases:[c2_ph5,c2_ph25,c2_ph45,c2_ph65,c2_ph85],colors:cyanS,shapes:filledShapes,fitColor:'#2cc4c4',arrowColor:'#2cc4c4',
  arL:[817,838,561],arR:[879,897,492],legend:{x:774,y:543,dy:9.7}});

nyquist({name:'nyquist-d1',L:213,R:390,T:660,B:801,xmax:6,ymax:6,xv:d1Vals,xl:d1Labels,yv:d1Vals,yl:d1Labels,
  xtitle:"Z' / Ω·cm²",ytitle:"-Z'' / Ω·cm²",ytoff:29,colors:['#e8454a','#e8454a','#e8454a','#e8454a','#e8454a'],shapes:['sq','ci','tu','td','di'],hollow:true,fitColor:'#e8454a',dash:'2,1.5',
  fitEndX:d1_fitEndX,fitEndY:d1_fitEndY,
  series:[{x:d1_x5,y:d1_y5},{x:d1_x25,y:d1_y25},{x:d1_x45,y:d1_y45},{x:d1_x65,y:d1_y65},{x:d1_x85,y:d1_y85}],
  legend:{x:348,y:745,dy:9.9}});
nyquist({name:'nyquist-e1',L:474,R:651,T:657,B:801,xmax:15,ymax:15,xv:nyq15Vals,xl:nyq15Labels,yv:nyq15Vals,yl:nyq15Labels,
  xtitle:"Z' / Ω·cm²",ytitle:"-Z'' / Ω·cm²",colors:['#28c0c0','#28c0c0','#28c0c0','#28c0c0','#28c0c0'],shapes:['sq','tu','di','tr','st'],hollow:true,fitColor:'#28c0c0',
  series:[{x:e1_x5,y:e1_y5},{x:e1_x25,y:e1_y25},{x:e1_x45,y:e1_y45},{x:e1_x65,y:e1_y65},{x:e1_x85,y:e1_y85}],
  legend:{x:609,y:667,dy:10}});

bode({name:'bode-d2',L:213,R:389,T:861,B:1003,logZ:d2_logZ,phases:[d2_ph5,d2_ph25,d2_ph45,d2_ph65,d2_ph85],colors:['#e8454a','#e8454a','#e8454a','#e8454a','#e8454a'],shapes:['sq','ci','tu','td','di'],hollow:true,fitColor:'#e8454a',dash:'2.5,1.5',arrowColor:'#e8323a',
  arL:[246,266,926],arR:[355,375,895],legend:{x:233,y:943,dy:9.8}});
bode({name:'bode-e2',L:471,R:646,T:862,B:1003,logZ:e2_logZ,phases:[e2_ph5,e2_ph25,e2_ph45,e2_ph65,e2_ph85],colors:['#28c0c0','#28c0c0','#28c0c0','#28c0c0','#28c0c0'],shapes:['sq','ci','tu','td','di'],hollow:true,fitColor:'#28c0c0',dash:'2.5,1.5',arrowColor:'#28c0c0',
  arL:[506,526,936],arR:[618,637,909],legend:{x:492,y:948,dy:9.8}});
</script>
</body></html>
